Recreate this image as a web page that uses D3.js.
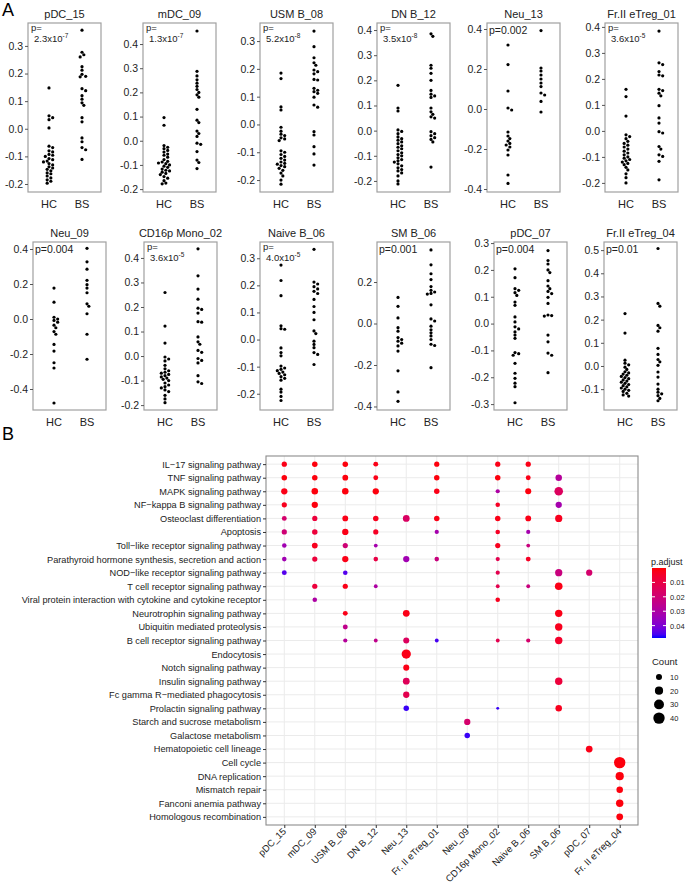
<!DOCTYPE html>
<html><head><meta charset="utf-8">
<script src="https://cdn.jsdelivr.net/npm/d3@7/dist/d3.min.js"></script>
<style>
body{margin:0;background:#fff}
svg{display:block}
text{font-family:"Liberation Sans",Arial,Helvetica,sans-serif}
</style>
</head><body>
<svg id="chart" width="685" height="886"></svg>
<script>
// ---------------- Panel A data ----------------
const panelTitles = ["pDC_15","mDC_09","USM B_08","DN B_12","Neu_13","Fr.II eTreg_01",
                     "Neu_09","CD16p Mono_02","Naive B_06","SM B_06","pDC_07","Fr.II eTreg_04"];
const groupLabels = ["HC","BS"];
// p-values: [mantissa, exponent] or plain string
const panelP = [["2.3","-7"],["1.3","-7"],["5.2","-8"],["3.5","-8"],"0.002",["3.6","-5"],
                "0.004",["3.6","-5"],["4.0","-5"],"0.001","0.004","0.01"];
const panelTicks = [
  [-0.2,-0.1,0,0.1,0.2,0.3],
  [-0.2,-0.1,0,0.1,0.2,0.3,0.4],
  [-0.2,-0.1,0,0.1,0.2,0.3],
  [-0.2,-0.1,0,0.1,0.2,0.3,0.4],
  [-0.4,-0.2,0,0.2,0.4],
  [-0.2,-0.1,0,0.1,0.2,0.3,0.4],
  [-0.4,-0.2,0,0.2,0.4],
  [-0.2,-0.1,0,0.1,0.2,0.3,0.4],
  [-0.2,-0.1,0,0.1,0.2,0.3],
  [-0.4,-0.2,0,0.2],
  [-0.3,-0.2,-0.1,0,0.1,0.2,0.3],
  [-0.1,0,0.1,0.2,0.3,0.4,0.5]
];
const panelDomains = [
  [-0.229,0.383],[-0.212,0.487],[-0.243,0.365],[-0.244,0.428],[-0.415,0.43],[-0.235,0.415],
  [-0.52,0.44],[-0.22,0.465],[-0.26,0.36],[-0.417,0.393],[-0.322,0.304],[-0.19,0.535]
];

const hc_pDC_15 = [0.148,0.047,0.04,0.033,0.003,-0.063,-0.068,-0.08,-0.084,-0.093,-0.096,-0.1,-0.108,-0.112,-0.117,-0.12,-0.126,-0.131,-0.138,-0.142,-0.147,-0.152,-0.16,-0.163,-0.171,-0.178,-0.185,-0.19,-0.197];
const bs_pDC_15 = [0.357,0.277,0.268,0.26,0.225,0.212,0.197,0.19,0.188,0.145,0.138,0.12,0.107,0.094,0.085,0.04,0.025,-0.033,-0.047,-0.068,-0.076,-0.111];
const hc_mDC_09 = [0.096,0.064,-0.02,-0.027,-0.033,-0.04,-0.047,-0.055,-0.06,-0.068,-0.078,-0.085,-0.088,-0.092,-0.095,-0.1,-0.105,-0.11,-0.117,-0.122,-0.125,-0.13,-0.135,-0.14,-0.148,-0.155,-0.165,-0.175,-0.178];
const bs_mDC_09 = [0.454,0.287,0.268,0.252,0.238,0.225,0.212,0.2,0.19,0.18,0.13,0.085,0.075,0.04,0.03,0.018,-0.01,-0.015,-0.045,-0.08,-0.09,-0.115];
const hc_USM_B_08 = [0.185,0.165,0.063,0.052,-0.01,-0.024,-0.035,-0.04,-0.048,-0.052,-0.058,-0.095,-0.1,-0.108,-0.115,-0.122,-0.128,-0.135,-0.14,-0.143,-0.148,-0.152,-0.158,-0.165,-0.175,-0.185,-0.2,-0.215];
const bs_USM_B_08 = [0.336,0.28,0.24,0.222,0.213,0.196,0.19,0.182,0.162,0.16,0.13,0.123,0.118,0.112,0.098,0.07,0.062,-0.026,-0.038,-0.08,-0.106,-0.146];
const hc_DN_B_12 = [0.18,0.09,0.078,0.003,-0.003,-0.012,-0.025,-0.032,-0.038,-0.045,-0.052,-0.06,-0.066,-0.072,-0.08,-0.088,-0.095,-0.1,-0.108,-0.115,-0.12,-0.125,-0.132,-0.14,-0.148,-0.155,-0.16,-0.168,-0.18,-0.2,-0.212];
const bs_DN_B_12 = [0.385,0.375,0.26,0.248,0.228,0.2,0.16,0.145,0.138,0.132,0.09,0.075,0.065,0.055,0.05,-0.004,-0.012,-0.02,-0.028,-0.035,-0.045,-0.145];
const hc_Neu_13 = [0.32,0.222,0.09,0.005,-0.005,-0.115,-0.135,-0.148,-0.16,-0.172,-0.18,-0.19,-0.205,-0.23,-0.33,-0.372];
const bs_Neu_13 = [0.392,0.205,0.19,0.17,0.15,0.13,0.112,0.08,0.07,0.038,-0.015];
const hc_FrII_eTreg_01 = [0.16,0.132,0.057,-0.015,-0.022,-0.03,-0.04,-0.048,-0.055,-0.062,-0.07,-0.078,-0.085,-0.092,-0.1,-0.105,-0.11,-0.115,-0.12,-0.125,-0.13,-0.14,-0.15,-0.165,-0.18,-0.2];
const bs_FrII_eTreg_01 = [0.384,0.262,0.255,0.228,0.215,0.212,0.16,0.155,0.145,0.135,0.097,0.05,0.03,-0.003,-0.008,-0.06,-0.07,-0.092,-0.098,-0.117,-0.188];
const hc_Neu_09 = [0.177,0.096,0.01,0.0,-0.008,-0.018,-0.035,-0.05,-0.072,-0.087,-0.145,-0.183,-0.25,-0.28,-0.48];
const bs_Neu_09 = [0.404,0.327,0.285,0.221,0.196,0.177,0.15,0.087,0.073,0.03,-0.087,-0.23];
const hc_CD16p_Mono_02 = [0.259,0.122,0.053,-0.004,-0.012,-0.02,-0.038,-0.052,-0.06,-0.066,-0.07,-0.075,-0.08,-0.085,-0.09,-0.095,-0.1,-0.11,-0.118,-0.125,-0.13,-0.138,-0.145,-0.16,-0.175,-0.19];
const bs_CD16p_Mono_02 = [0.437,0.327,0.273,0.232,0.195,0.19,0.175,0.14,0.138,0.078,0.058,0.048,0.023,0.015,-0.01,-0.018,-0.028,-0.08,-0.105,-0.112];
const hc_Naive_B_06 = [0.275,0.218,0.162,0.051,0.04,0.038,-0.031,-0.048,-0.06,-0.098,-0.105,-0.11,-0.115,-0.12,-0.125,-0.13,-0.137,-0.143,-0.15,-0.183,-0.194,-0.21,-0.225];
const bs_Naive_B_06 = [0.333,0.212,0.205,0.195,0.187,0.178,0.17,0.148,0.122,0.1,0.073,0.032,0.022,-0.006,-0.018,-0.03,-0.048,-0.055,-0.092];
const hc_SM_B_06 = [0.126,0.083,0.027,-0.02,-0.037,-0.068,-0.077,-0.085,-0.095,-0.108,-0.133,-0.228,-0.33,-0.375];
const bs_SM_B_06 = [0.355,0.283,0.24,0.212,0.178,0.16,0.152,0.145,0.142,0.09,0.022,0.012,-0.013,-0.03,-0.045,-0.06,-0.077,-0.1,-0.106,-0.213];
const hc_pDC_07 = [0.204,0.171,0.13,0.124,0.115,0.105,0.08,0.068,0.025,0.006,-0.012,-0.02,-0.031,-0.043,-0.055,-0.108,-0.112,-0.118,-0.148,-0.185,-0.204,-0.222,-0.235,-0.295];
const bs_pDC_07 = [0.272,0.235,0.222,0.2,0.19,0.16,0.14,0.13,0.12,0.112,0.098,0.075,0.032,0.03,0.028,-0.043,-0.068,-0.11,-0.118,-0.183];
const hc_FrII_eTreg_04 = [0.226,0.142,0.025,0.012,0.005,-0.005,-0.015,-0.025,-0.03,-0.035,-0.04,-0.045,-0.05,-0.055,-0.06,-0.065,-0.07,-0.075,-0.08,-0.085,-0.09,-0.095,-0.1,-0.105,-0.11,-0.118,-0.125,-0.13];
const bs_FrII_eTreg_04 = [0.507,0.27,0.258,0.175,0.165,0.15,0.076,0.05,0.028,0.018,0.003,-0.026,-0.048,-0.078,-0.1,-0.113,-0.12,-0.128,-0.14,-0.15];

const hcValues = [hc_pDC_15,hc_mDC_09,hc_USM_B_08,hc_DN_B_12,hc_Neu_13,hc_FrII_eTreg_01,
                  hc_Neu_09,hc_CD16p_Mono_02,hc_Naive_B_06,hc_SM_B_06,hc_pDC_07,hc_FrII_eTreg_04];
const bsValues = [bs_pDC_15,bs_mDC_09,bs_USM_B_08,bs_DN_B_12,bs_Neu_13,bs_FrII_eTreg_01,
                  bs_Neu_09,bs_CD16p_Mono_02,bs_Naive_B_06,bs_SM_B_06,bs_pDC_07,bs_FrII_eTreg_04];

// ---------------- Panel B data ----------------
const pathways = ["IL\u221217 signaling pathway","TNF signaling pathway","MAPK signaling pathway",
  "NF\u2212kappa B signaling pathway","Osteoclast differentiation","Apoptosis",
  "Toll\u2212like receptor signaling pathway","Parathyroid hormone synthesis, secretion and action",
  "NOD\u2212like receptor signaling pathway","T cell receptor signaling pathway",
  "Viral protein interaction with cytokine and cytokine receptor","Neurotrophin signaling pathway",
  "Ubiquitin mediated proteolysis","B cell receptor signaling pathway","Endocytosis",
  "Notch signaling pathway","Insulin signaling pathway","Fc gamma R\u2212mediated phagocytosis",
  "Prolactin signaling pathway","Starch and sucrose metabolism","Galactose metabolism",
  "Hematopoietic cell lineage","Cell cycle","DNA replication","Mismatch repair",
  "Fanconi anemia pathway","Homologous recombination"];
const clusters = ["pDC_15","mDC_09","USM B_08","DN B_12","Neu_13","Fr. II eTreg_01","Neu_09",
  "CD16p Mono_02","Naive B_06","SM B_06","pDC_07","Fr. II eTreg_04"];
// [pathway index, cluster index, Count, p.adjust]
const enrichment = [
  [0,0,7,0.002],[0,1,8,0.001],[0,2,8,0.001],[0,3,6,0.002],[0,5,7,0.001],[0,7,7,0.002],[0,8,7,0.002],
  [1,0,8,0.001],[1,1,8,0.001],[1,2,9,0.001],[1,3,6,0.002],[1,5,8,0.001],[1,7,8,0.001],[1,8,6,0.002],[1,9,12,0.028],
  [2,0,11,0.002],[2,1,12,0.001],[2,2,12,0.001],[2,3,11,0.001],[2,5,8,0.002],[2,7,4,0.03],[2,8,10,0.001],[2,9,22,0.015],
  [3,0,7,0.003],[3,1,11,0.001],[3,7,5,0.004],[3,9,11,0.032],
  [4,0,6,0.018],[4,1,7,0.008],[4,2,9,0.002],[4,3,8,0.003],[4,4,13,0.016],[4,5,8,0.002],[4,7,8,0.002],[4,8,9,0.002],[4,9,15,0.003],
  [5,0,7,0.02],[5,1,8,0.008],[5,2,11,0.002],[5,3,7,0.004],[5,5,4,0.032],[5,7,5,0.004],[5,8,4,0.032],
  [6,0,5,0.033],[6,1,9,0.003],[6,2,7,0.02],[6,3,3,0.032],[6,7,7,0.003],[6,8,3,0.022],
  [7,0,5,0.033],[7,1,7,0.008],[7,2,11,0.002],[7,3,5,0.01],[7,4,11,0.033],[7,5,5,0.022],[7,7,4,0.012],[7,8,6,0.004],
  [8,0,6,0.045],[8,2,5,0.045],[8,7,4,0.012],[8,9,15,0.022],[8,10,11,0.018],
  [9,1,7,0.008],[9,2,7,0.002],[9,3,3,0.03],[9,7,3,0.012],[9,8,3,0.022],[9,9,17,0.002],
  [10,1,5,0.03],[10,7,5,0.003],
  [11,2,6,0.002],[11,4,13,0.002],[11,9,16,0.002],
  [12,2,6,0.025],[12,9,16,0.003],
  [13,2,4,0.028],[13,3,3,0.025],[13,4,10,0.015],[13,5,3,0.046],[13,7,3,0.012],[13,8,4,0.018],[13,9,16,0.005],
  [14,4,26,0.002],
  [15,4,10,0.002],
  [16,4,13,0.014],[16,9,16,0.008],
  [17,4,11,0.012],
  [18,4,8,0.047],[18,7,1,0.047],[18,9,12,0.003],
  [19,6,11,0.018],
  [20,6,8,0.047],
  [21,10,13,0.002],
  [22,11,40,0.001],[23,11,20,0.001],[24,11,12,0.001],[25,11,16,0.001],[26,11,13,0.001]
];
const padjTicks = [0.01,0.02,0.03,0.04];
const countTicks = [10,20,30,40];

// ---------------- Drawing ----------------
const svg = d3.select("#chart");
const FONT = "'Liberation Sans',Arial,sans-serif";

svg.append("text").attr("x",2).attr("y",16).attr("font-size",18).text("A");
svg.append("text").attr("x",2).attr("y",440).attr("font-size",18).text("B");

const boxLeft = [28,143,260,377,487,605, 33,144,260,377,494,604];
const boxW = 73;
const rowTop = [23,242], rowBot = [192,410];
const fmtTick = v => (Math.abs(v)<1e-9?0:v).toFixed(1);
const DOT_R = 1.6;

function swarm(vals, cx, y, r) {
  const pts = vals.map(v => ({v, y: y(v)})).sort((a,b) => a.y - b.y);
  const placed = [];
  const offs = [0];
  for (let i = 1; i < 12; i++) offs.push(i*r*1.15, -i*r*1.15);
  for (const p of pts) {
    for (const o of offs) {
      const x = cx + o;
      const ok = placed.every(q => (q.x-x)*(q.x-x) + (q.y-p.y)*(q.y-p.y) >= (2*r)*(2*r)*0.85);
      if (ok) { p.x = x; break; }
    }
    if (p.x === undefined) p.x = cx;
    placed.push(p);
  }
  return placed;
}

panelTitles.forEach((title, i) => {
  const row = i < 6 ? 0 : 1;
  const x0 = boxLeft[i], top = rowTop[row], bot = rowBot[row];
  const g = svg.append("g");
  const y = d3.scaleLinear().domain(panelDomains[i]).range([bot, top]);
  const x = d3.scalePoint().domain(groupLabels).range([x0 + 21, x0 + 54]);

  g.append("rect").attr("x", x0).attr("y", top).attr("width", boxW).attr("height", bot - top)
    .attr("fill", "none").attr("stroke", "#a0a0a0").attr("stroke-width", 1.2);
  const ax = d3.axisLeft(y).tickValues(panelTicks[i]).tickFormat(fmtTick).tickSize(3).tickPadding(2);
  const ag = g.append("g").attr("transform", `translate(${x0},0)`).call(ax);
  ag.select(".domain").remove();
  ag.selectAll(".tick line").attr("stroke", "#555");
  ag.selectAll(".tick text").attr("font-size", 10.5).attr("fill", "#222").attr("font-family", FONT);
  groupLabels.forEach(gl => {
    g.append("text").attr("x", x(gl)).attr("y", bot + 16).attr("text-anchor", "middle")
      .attr("font-size", 11).attr("fill", "#222").text(gl);
  });
  g.append("text").attr("x", x0 + boxW/2).attr("y", top - 5).attr("text-anchor", "middle")
    .attr("font-size", 11).attr("fill", "#222").text(title);
  const p = panelP[i];
  if (Array.isArray(p)) {
    g.append("text").attr("x", x0 + 3).attr("y", top + 8).attr("font-size", 9.5).attr("fill", "#222").text("p=");
    const t = g.append("text").attr("x", x0 + 6).attr("y", top + 19).attr("font-size", 9.5).attr("fill", "#222");
    t.append("tspan").text(p[0] + "x10");
    t.append("tspan").attr("dy", -4).attr("font-size", 6.5).text(p[1]);
  } else {
    g.append("text").attr("x", x0 + 2).attr("y", top + 11).attr("font-size", 10.5).attr("fill", "#222").text("p=" + p);
  }
  [hcValues[i], bsValues[i]].forEach((vals, gi) => {
    const pts = swarm(vals, x(groupLabels[gi]), y, DOT_R);
    g.selectAll(null).data(pts).enter().append("circle")
      .attr("cx", d => d.x).attr("cy", d => d.y).attr("r", DOT_R).attr("fill", "#000");
  });
});

// ---------------- Panel B ----------------
const bL = 266, bR = 638, bT = 456, bB = 825;
const xB = d3.scalePoint().domain(clusters).range([bL, bR]).padding(0.6);
const yB = d3.scalePoint().domain(pathways).range([bT, bB]).padding(0.6);
const color = d3.scaleLinear().domain([0, 0.0486]).range(["#ff0000", "#0000ff"]).interpolate(d3.interpolateLab);
const sizeArea = d3.scaleLinear().domain([0, 50]).range([1.3, 40.3]);
const rOf = c => Math.sqrt(sizeArea(c));

const gB = svg.append("g");
gB.append("rect").attr("x", bL).attr("y", bT).attr("width", bR - bL).attr("height", bB - bT).attr("fill", "#fff");
gB.selectAll(null).data(clusters).enter().append("line")
  .attr("x1", d => xB(d)).attr("x2", d => xB(d)).attr("y1", bT).attr("y2", bB)
  .attr("stroke", "#ebebeb").attr("stroke-width", 1);
gB.selectAll(null).data(pathways).enter().append("line")
  .attr("x1", bL).attr("x2", bR).attr("y1", d => yB(d)).attr("y2", d => yB(d))
  .attr("stroke", "#ebebeb").attr("stroke-width", 1);
gB.selectAll(null).data(enrichment).enter().append("circle")
  .attr("cx", d => xB(clusters[d[1]])).attr("cy", d => yB(pathways[d[0]]))
  .attr("r", d => rOf(d[2])).attr("fill", d => color(d[3]));
gB.append("rect").attr("x", bL).attr("y", bT).attr("width", bR - bL).attr("height", bB - bT)
  .attr("fill", "none").attr("stroke", "#8c8c8c").attr("stroke-width", 1.1);
const ayB = gB.append("g").attr("transform", `translate(${bL},0)`)
  .call(d3.axisLeft(yB).tickSize(3).tickPadding(2));
ayB.select(".domain").remove();
ayB.selectAll(".tick line").attr("stroke", "#333");
ayB.selectAll(".tick text").attr("font-size", 9.2).attr("fill", "#222").attr("font-family", FONT);
const axB = gB.append("g").attr("transform", `translate(0,${bB})`)
  .call(d3.axisBottom(xB).tickSize(3).tickPadding(2));
axB.select(".domain").remove();
axB.selectAll(".tick line").attr("stroke", "#333");
axB.selectAll(".tick text").attr("font-size", 9.5).attr("fill", "#222").attr("font-family", FONT)
  .attr("text-anchor", "end").attr("dy", null).attr("y", 0)
  .attr("transform", "translate(2,7) rotate(-45)");

// legend: p.adjust
const lg = svg.append("g");
lg.append("text").attr("x", 651).attr("y", 565).attr("font-size", 9).attr("fill", "#222").text("p.adjust");
const grad = svg.append("defs").append("linearGradient").attr("id", "pgrad")
  .attr("x1", 0).attr("y1", 0).attr("x2", 0).attr("y2", 1);
d3.range(0, 1.0001, 0.05).forEach(t => {
  grad.append("stop").attr("offset", t).attr("stop-color", color(t * 0.0486));
});
const cbTop = 568, cbBot = 638;
lg.append("rect").attr("x", 652).attr("y", cbTop).attr("width", 14).attr("height", cbBot - cbTop).attr("fill", "url(#pgrad)");
const yC = d3.scaleLinear().domain([0, 0.0486]).range([cbTop, cbBot]);
padjTicks.forEach(v => {
  lg.append("line").attr("x1", 652).attr("x2", 655).attr("y1", yC(v)).attr("y2", yC(v)).attr("stroke", "#fff");
  lg.append("line").attr("x1", 663).attr("x2", 666).attr("y1", yC(v)).attr("y2", yC(v)).attr("stroke", "#fff");
  lg.append("text").attr("x", 670).attr("y", yC(v) + 3).attr("font-size", 7.5).attr("fill", "#222").text(v.toFixed(2));
});
// legend: Count
lg.append("text").attr("x", 652).attr("y", 665).attr("font-size", 9.5).attr("fill", "#222").text("Count");
countTicks.forEach((c, k) => {
  const cy = 677 + k * 13.7;
  lg.append("circle").attr("cx", 659).attr("cy", cy).attr("r", rOf(c)).attr("fill", "#000");
  lg.append("text").attr("x", 670).attr("y", cy + 3).attr("font-size", 7.5).attr("fill", "#222").text(c);
});
</script>
</body></html>
